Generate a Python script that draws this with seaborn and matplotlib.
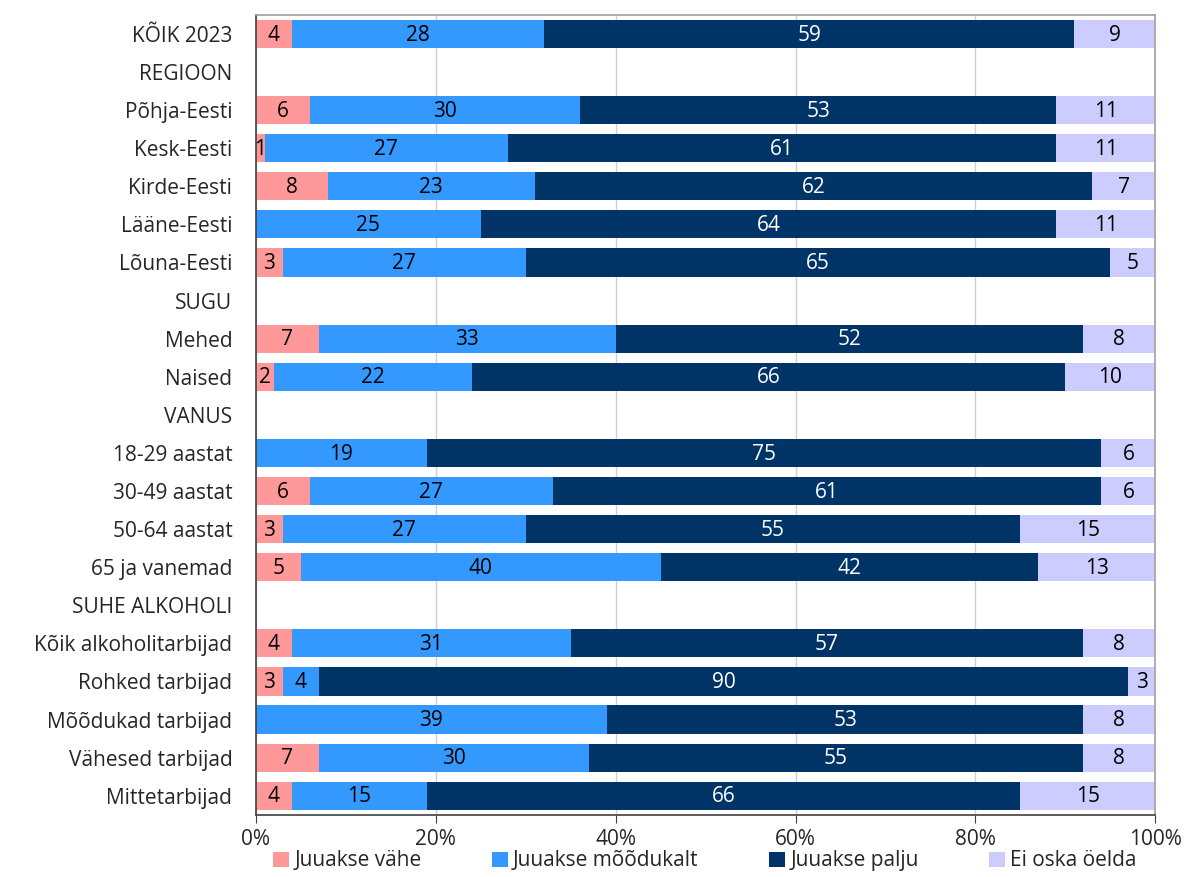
import numpy as np
import pandas as pd
import seaborn as sns
import matplotlib.pyplot as plt
from matplotlib.patches import Patch
from matplotlib.ticker import FixedLocator

rows = ["KÕIK 2023", "REGIOON", "Põhja-Eesti", "Kesk-Eesti", "Kirde-Eesti", "Lääne-Eesti",
        "Lõuna-Eesti", "SUGU", "Mehed", "Naised", "VANUS", "18-29 aastat", "30-49 aastat",
        "50-64 aastat", "65 ja vanemad", "SUHE ALKOHOLI", "Kõik alkoholitarbijad",
        "Rohked tarbijad", "Mõõdukad tarbijad", "Vähesed tarbijad", "Mittetarbijad"]
# header rows have no bars
vahe =      [4, 0, 6, 1, 8, 0, 3, 0, 7, 2, 0, 0, 6, 3, 5, 0, 4, 3, 0, 7, 4]
moodukalt = [28, 0, 30, 27, 23, 25, 27, 0, 33, 22, 0, 19, 27, 27, 40, 0, 31, 4, 39, 30, 15]
palju =     [59, 0, 53, 61, 62, 64, 65, 0, 52, 66, 0, 75, 61, 55, 42, 0, 57, 90, 53, 55, 66]
ei_oska =   [9, 0, 11, 11, 7, 11, 5, 0, 8, 10, 0, 6, 6, 15, 13, 0, 8, 3, 8, 8, 15]

series = ["Juuakse vähe", "Juuakse mõõdukalt", "Juuakse palju", "Ei oska öelda"]
colors = ["#FF9999", "#3399FF", "#003366", "#CCCCFF"]
text_colors = ["black", "black", "white", "black"]

df = pd.DataFrame({"rida": rows, series[0]: vahe, series[1]: moodukalt,
                   series[2]: palju, series[3]: ei_oska})
vals = df[series].to_numpy(dtype=float)
cum = vals.cumsum(axis=1)

sns.set_style("white")
plt.rcParams["font.family"] = ["Open Sans", "DejaVu Sans"]
fs = 15

fig = plt.figure(figsize=(11.85, 8.77), dpi=100)
ax = fig.add_axes([0.216, 0.071, 0.759, 0.912])

# stacked bars: draw cumulative totals from the back to the front
for i in range(3, -1, -1):
    sns.barplot(x=cum[:, i], y=df["rida"], order=rows, orient="h", color=colors[i],
                width=0.74, linewidth=0, saturation=1, ax=ax, zorder=2)

for r in range(len(rows)):
    for i in range(4):
        v = vals[r, i]
        if v > 0:
            ax.text(cum[r, i] - v / 2, r + 0.03, f"{int(v)}", ha="center", va="center",
                    fontsize=fs, color=text_colors[i], zorder=3)

ax.set_xlim(0, 100)
ax.set_ylim(len(rows) - 0.5, -0.5)
ax.set_xticks(np.arange(0, 101, 20))
ax.set_xticklabels([f"{t}%" for t in range(0, 101, 20)], fontsize=fs)
ax.xaxis.grid(True, color="#D0D0D0", linewidth=1, zorder=0)
ax.set_axisbelow(True)
ax.set_xlabel("")
ax.set_ylabel("")
ax.tick_params(axis="y", which="major", length=0, labelsize=fs, pad=17)
ax.yaxis.set_minor_locator(FixedLocator(np.arange(-0.5, len(rows), 1)))
ax.tick_params(axis="y", which="minor", length=6, direction="out", color="#404040")
ax.tick_params(axis="x", which="major", length=6, direction="out", color="#404040",
               labelsize=fs, pad=4)
ax.tick_params(axis="x", bottom=True)

for s in ["left", "bottom"]:
    ax.spines[s].set_color("#404040")
    ax.spines[s].set_linewidth(1.2)
for s in ["top", "right"]:
    ax.spines[s].set_color("#A0A0A0")
    ax.spines[s].set_linewidth(1.2)

handles = [Patch(facecolor=c, edgecolor="none") for c in colors]
fig.legend(handles, series, loc="lower center", bbox_to_anchor=(0.595, -0.015), ncol=4,
           frameon=False, fontsize=fs, handlelength=0.75, handleheight=0.75,
           handletextpad=0.25, columnspacing=3.4)

fig.savefig("out.png", dpi=100)
